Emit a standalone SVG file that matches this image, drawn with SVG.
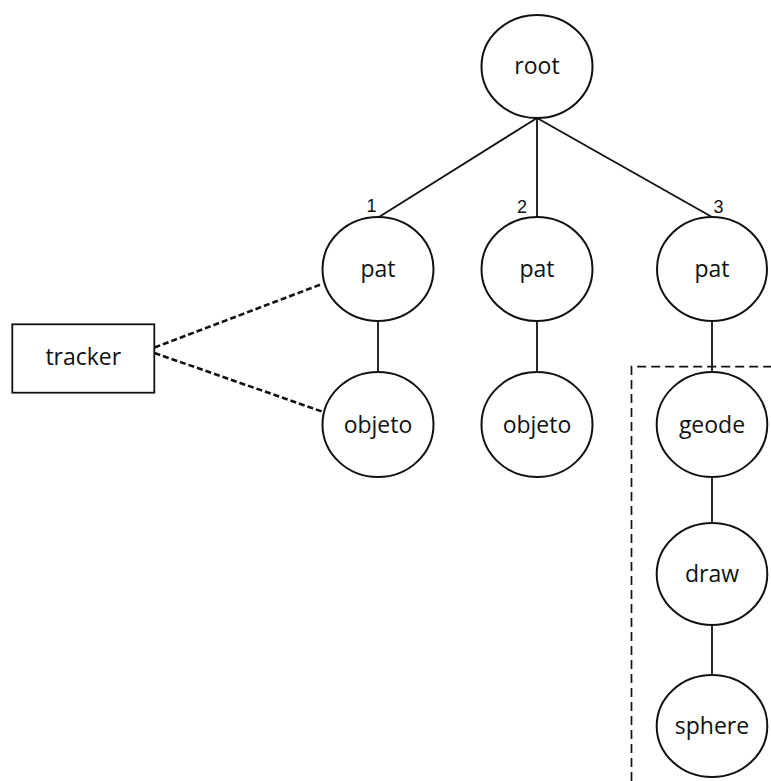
<svg xmlns="http://www.w3.org/2000/svg" width="771" height="781" viewBox="0 0 771 781">
<style>
.node ellipse{fill:#fff;stroke:#111;stroke-width:2}
.lbl{font-family:"Open Sans","Noto Sans",sans-serif;font-size:23px;fill:#111;text-anchor:middle}
.num{font-family:"Liberation Sans",Arial,sans-serif;font-size:18px;fill:#111;text-anchor:middle}
.edge{stroke:#111;stroke-width:1.8;fill:none}
.dash{stroke:#111;stroke-width:2.6;stroke-dasharray:6 3;fill:none}
.box{stroke:#111;stroke-width:1.7;stroke-dasharray:9 5;fill:none}
</style>
<rect width="771" height="781" fill="#fff"/>
<path id="group-box" class="box" d="M631.5,781 L631.5,366.7 L771,366.7"/>
<g id="connectors">
<line class="edge" x1="537" y1="118" x2="379" y2="217"/>
<line class="edge" x1="537" y1="118" x2="537" y2="217"/>
<line class="edge" x1="537" y1="118" x2="712" y2="217"/>
<line class="edge" x1="378" y1="321" x2="378" y2="372"/>
<line class="edge" x1="537" y1="321" x2="537" y2="372"/>
<line class="edge" x1="712" y1="321" x2="712" y2="372"/>
<line class="edge" x1="712" y1="477" x2="712" y2="523"/>
<line class="edge" x1="712" y1="625" x2="712" y2="675"/>
<line class="dash" x1="154.5" y1="347.5" x2="322" y2="284"/>
<line class="dash" x1="154.5" y1="353" x2="322" y2="411.5"/>
<text class="num" x="371.5" y="212">1</text>
<text class="num" x="522" y="212.5">2</text>
<text class="num" x="718.5" y="212.5">3</text>
</g>
<g id="root" class="node"><ellipse cx="537" cy="66.5" rx="55.5" ry="51.5"/><text class="lbl" x="537" y="74">root</text></g>
<g id="pat1" class="node"><ellipse cx="378" cy="269" rx="55.5" ry="52"/><text class="lbl" x="378" y="277">pat</text></g>
<g id="pat2" class="node"><ellipse cx="537" cy="269" rx="55.5" ry="52"/><text class="lbl" x="537" y="277">pat</text></g>
<g id="pat3" class="node"><ellipse cx="712" cy="269" rx="55" ry="52"/><text class="lbl" x="712" y="277">pat</text></g>
<g id="objeto1" class="node"><ellipse cx="378" cy="424.5" rx="55.5" ry="52.5"/><text class="lbl" x="378" y="432.5">objeto</text></g>
<g id="objeto2" class="node"><ellipse cx="537" cy="424.5" rx="55.5" ry="52.5"/><text class="lbl" x="537" y="432.5">objeto</text></g>
<g id="geode" class="node"><ellipse cx="712" cy="424.5" rx="55.3" ry="52.5"/><text class="lbl" x="712" y="432.5">geode</text></g>
<g id="draw" class="node"><ellipse cx="712" cy="574" rx="55.3" ry="51"/><text class="lbl" x="712" y="582">draw</text></g>
<g id="sphere" class="node"><ellipse cx="712" cy="726" rx="55.3" ry="51"/><text class="lbl" x="712" y="734">sphere</text></g>
<g id="tracker" class="node"><rect x="12.3" y="324.3" width="142" height="68.4" fill="#fff" stroke="#111" stroke-width="1.8"/><text class="lbl" x="83.3" y="364.5">tracker</text></g>
</svg>
